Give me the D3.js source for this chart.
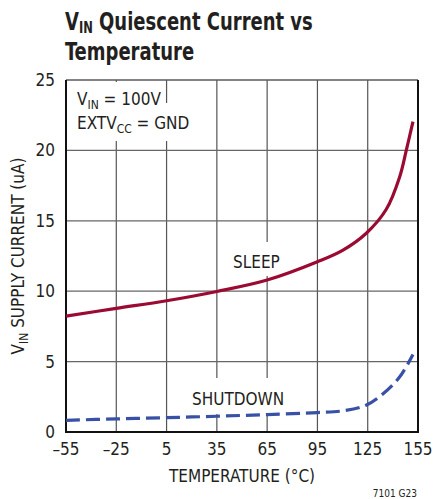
<!DOCTYPE html>
<html>
<head>
<meta charset="utf-8">
<script src="https://cdn.jsdelivr.net/npm/d3@7"></script>
<style>
  body { margin: 0; background: #fff; }
  svg { display: block; }
  text { font-family: "Liberation Sans Narrow", "DejaVu Sans Condensed", "Roboto", sans-serif; fill: #231f20; }
</style>
</head>
<body>
<div id="chart"></div>
<script>
// data
let xTicks = [-55, -25, 5, 35, 65, 95, 125, 155];
let yTicks = [0, 5, 10, 15, 20, 25];
let sleepTemp = [-55, -25, 5, 35, 65, 95, 110, 124, 136, 144, 148, 152];
let sleepCurrent = [8.23, 8.78, 9.32, 9.98, 10.79, 12.09, 12.9, 14.1, 15.8, 18.1, 20.0, 22.05];
let shutdownTemp = [-55, -25, 5, 35, 65, 95, 110, 124, 134, 144, 152];
let shutdownCurrent = [0.83, 0.93, 1.02, 1.12, 1.24, 1.38, 1.5, 1.9, 2.7, 3.9, 5.5];

let w = 433;
let h = 499;
let pLeft = 66, pRight = 418, pTop = 80, pBottom = 432;

let svg = d3.select("#chart")
    .append("svg")
    .attr("width", w)
    .attr("height", h);

let x = d3.scaleLinear().domain([-55, 155]).range([pLeft, pRight]);
let y = d3.scaleLinear().domain([0, 25]).range([pBottom, pTop]);

// title (squeezed, the original is a condensed bold face)
let title = svg.append("g").attr("transform", "translate(65,0) scale(0.8,1)");
let t1 = title.append("text")
    .attr("x", 0).attr("y", 30)
    .style("font-size", "25px").style("font-weight", "bold");
t1.append("tspan").text("V");
t1.append("tspan").text("IN").attr("dy", 3).style("font-size", "16px");
t1.append("tspan").text(" Quiescent Current vs").attr("dy", -3);
title.append("text")
    .attr("x", 0).attr("y", 60)
    .style("font-size", "25px").style("font-weight", "bold")
    .text("Temperature");

// grid
let grid = svg.append("g");
grid.selectAll("line.v")
    .data(xTicks.slice(1, -1))
    .enter().append("line")
    .attr("x1", d => x(d)).attr("x2", d => x(d))
    .attr("y1", pTop).attr("y2", pBottom)
    .attr("stroke", "#555").attr("stroke-width", 1.2);
grid.selectAll("line.h")
    .data(yTicks.slice(1))
    .enter().append("line")
    .attr("x1", pLeft).attr("x2", pRight)
    .attr("y1", d => y(d)).attr("y2", d => y(d))
    .attr("stroke", "#666").attr("stroke-width", 1.2);

// white boxes behind the labels, they break the grid
function knockout(bx, by, bw, bh) {
    svg.append("rect")
        .attr("x", bx).attr("y", by)
        .attr("width", bw).attr("height", bh)
        .attr("fill", "#fff");
}
knockout(73, 82, 86, 30);
knockout(73, 103, 114, 38);
knockout(229, 242, 56, 34);
knockout(188, 378, 96, 36);

let a1 = svg.append("text").attr("x", 77).attr("y", 105).style("font-size", "17px");
a1.append("tspan").text("V");
a1.append("tspan").text("IN").attr("dy", 4).style("font-size", "12px");
a1.append("tspan").text(" = 100V").attr("dy", -4);
let a2 = svg.append("text").attr("x", 77).attr("y", 129).style("font-size", "17px");
a2.append("tspan").text("EXTV");
a2.append("tspan").text("CC").attr("dy", 4).style("font-size", "12px");
a2.append("tspan").text(" = GND").attr("dy", -4);

svg.append("text").attr("x", 233).attr("y", 268).style("font-size", "17px").text("SLEEP");
svg.append("text").attr("x", 192).attr("y", 405).style("font-size", "17px").text("SHUTDOWN");

// frame
svg.append("line").attr("x1", pLeft).attr("x2", pRight).attr("y1", pTop).attr("y2", pTop)
    .attr("stroke", "#555").attr("stroke-width", 1.2);
svg.append("path")
    .attr("d", "M" + pLeft + "," + pTop + "V" + pBottom + "H" + pRight + "V" + pTop)
    .attr("fill", "none").attr("stroke", "#111").attr("stroke-width", 2);

// curves
let line = d3.line()
    .x(d => x(d[0]))
    .y(d => y(d[1]))
    .curve(d3.curveCatmullRom.alpha(0.5));

svg.append("path")
    .datum(sleepTemp.map((t, i) => [t, sleepCurrent[i]]))
    .attr("d", line)
    .attr("fill", "none")
    .attr("stroke", "#9b0a33")
    .attr("stroke-width", 3.2);

svg.append("path")
    .datum(shutdownTemp.map((t, i) => [t, shutdownCurrent[i]]))
    .attr("d", line)
    .attr("fill", "none")
    .attr("stroke", "#3850a5")
    .attr("stroke-width", 3.2)
    .attr("stroke-dasharray", "14,6");

// tick labels
svg.append("g").selectAll("text")
    .data(xTicks)
    .enter().append("text")
    .attr("x", d => x(d))
    .attr("y", 455)
    .attr("text-anchor", "middle")
    .style("font-size", "17px")
    .text(d => d < 0 ? "\u2013" + Math.abs(d) : d);

svg.append("g").selectAll("text")
    .data(yTicks)
    .enter().append("text")
    .attr("x", 55)
    .attr("y", d => y(d) + 6)
    .attr("text-anchor", "end")
    .style("font-size", "17px")
    .text(d => d);

// axis titles
svg.append("text")
    .attr("x", 242).attr("y", 482)
    .attr("text-anchor", "middle")
    .style("font-size", "17px")
    .text("TEMPERATURE (\u00B0C)");

let yl = svg.append("text")
    .attr("transform", "translate(24,256) rotate(-90)")
    .attr("text-anchor", "middle")
    .style("font-size", "17px");
yl.append("tspan").text("V");
yl.append("tspan").text("IN").attr("dy", 4).style("font-size", "12px");
yl.append("tspan").text(" SUPPLY CURRENT (uA)").attr("dy", -4);

svg.append("text")
    .attr("x", 417).attr("y", 497)
    .attr("text-anchor", "end")
    .style("font-size", "10px")
    .text("7101 G23");
</script>
</body>
</html>
